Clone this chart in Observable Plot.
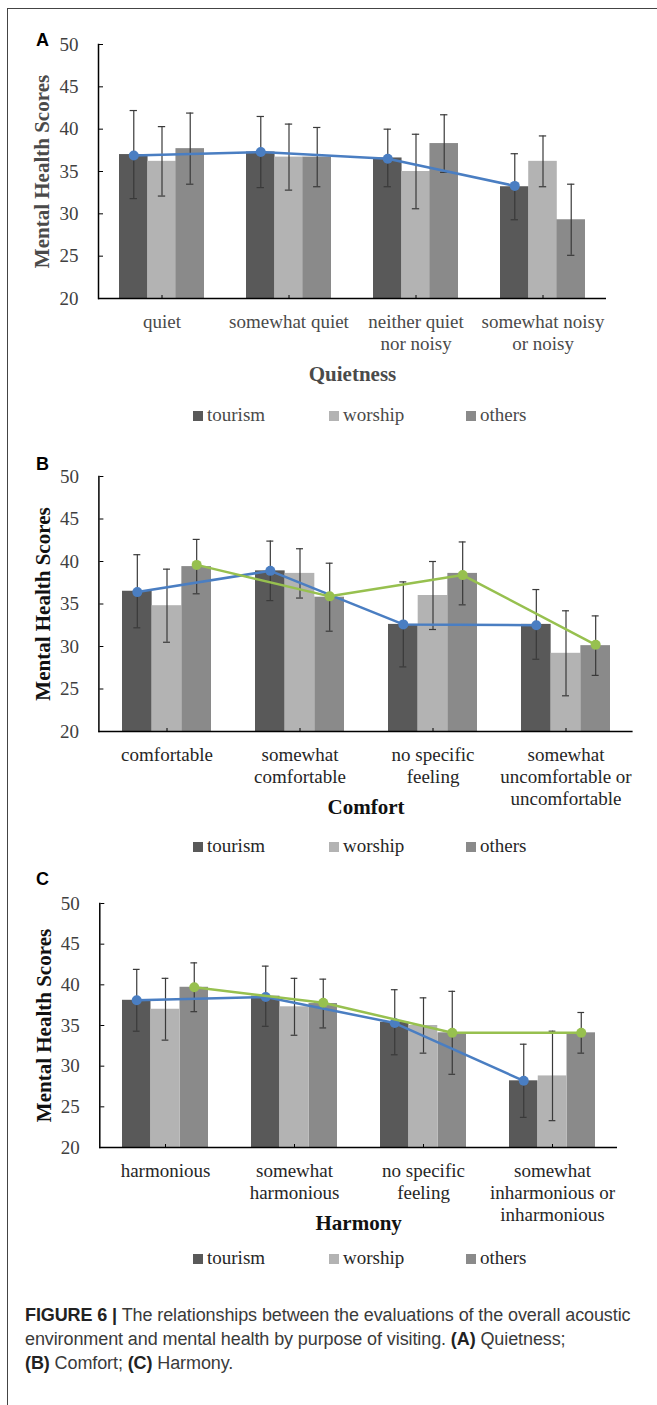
<!DOCTYPE html>
<html>
<head>
<meta charset="utf-8">
<script src="https://cdn.jsdelivr.net/npm/d3@7"></script>
<script src="https://cdn.jsdelivr.net/npm/@observablehq/plot@0.6"></script>
<style>
  body { margin: 0; background: #fff; }
  #page { position: relative; width: 657px; height: 1405px; overflow: hidden; background: #fff; }
  #border { position: absolute; left: 7px; top: 8px; width: 700px; height: 1500px; border-left: 1.5px solid #444; border-top: 1.5px solid #444; }
  .abs { position: absolute; }
  .letter { font-family: "Liberation Sans", Arial, sans-serif; font-weight: bold; font-size: 18px; color: #000; line-height: 1; }
  .legend { font-family: "Liberation Serif", "Times New Roman", serif; font-size: 19px; line-height: 1; }
  .sw { position: absolute; width: 10px; height: 10px; }
  #caption { position: absolute; left: 25px; top: 1303px; font-family: "Liberation Sans", Arial, sans-serif; font-size: 18px; line-height: 24px; color: #3a3a3a; white-space: nowrap; letter-spacing: -0.1px; }
  #caption b { color: #222; }
  svg text { font-family: "Liberation Serif", "Times New Roman", serif; }
</style>
</head>
<body>
<div id="page">
  <div id="border"></div>
  <div id="caption"><b>FIGURE 6 |</b> The relationships between the evaluations of the overall acoustic<br>environment and mental health by purpose of visiting. <b>(A)</b> Quietness;<br><b>(B)</b> Comfort; <b>(C)</b> Harmony.</div>
</div>
<script>
// ---------- data ----------
const series = ["tourism", "worship", "others"];
const seriesColors = ["#595959", "#b3b3b3", "#8a8a8a"];
const yTicks = [20, 25, 30, 35, 40, 45, 50];

// Panel A: Quietness
const quietCats = ["quiet", "somewhat quiet", "neither quiet\nnor noisy", "somewhat noisy\nor noisy"];
const quietTourism = [37.0, 37.3, 36.6, 33.2];
const quietWorship = [36.2, 36.7, 35.0, 36.2];
const quietOthers  = [37.7, 36.7, 38.3, 29.3];
const quietTourismSD = [5.2, 4.2, 3.4, 3.9];
const quietWorshipSD = [4.1, 3.9, 4.4, 3.0];
const quietOthersSD  = [4.2, 3.5, 3.4, 4.2];
const quietBlueLine  = [36.9, 37.3, 36.5, 33.3];

// Panel B: Comfort
const comfortCats = ["comfortable", "somewhat\ncomfortable", "no specific\nfeeling", "somewhat\nuncomfortable or\nuncomfortable"];
const comfortTourism = [36.5, 38.9, 32.6, 32.6];
const comfortWorship = [34.8, 38.6, 36.0, 29.2];
const comfortOthers  = [39.4, 35.8, 38.6, 30.1];
const comfortTourismSD = [4.3, 3.5, 5.0, 4.1];
const comfortWorshipSD = [4.3, 2.9, 4.0, 5.0];
const comfortOthersSD  = [3.2, 4.0, 3.7, 3.5];
const comfortBlueLine  = [36.4, 38.9, 32.6, 32.5];
const comfortGreenLine = [39.6, 35.9, 38.4, 30.2];

// Panel C: Harmony
const harmonyCats = ["harmonious", "somewhat\nharmonious", "no specific\nfeeling", "somewhat\ninharmonious or\ninharmonious"];
const harmonyTourism = [38.1, 38.6, 35.4, 28.2];
const harmonyWorship = [37.0, 37.3, 35.0, 28.8];
const harmonyOthers  = [39.7, 37.7, 34.1, 34.1];
const harmonyTourismSD = [3.8, 3.7, 4.0, 4.5];
const harmonyWorshipSD = [3.8, 3.5, 3.4, 5.5];
const harmonyOthersSD  = [3.0, 3.0, 5.1, 2.5];
const harmonyBlueLine  = [38.1, 38.5, 35.3, 28.2];
const harmonyGreenLine = [39.7, 37.8, 34.1, 34.1];

const blue = "#4a7ec2";
const green = "#97c04f";
const serif = "'Liberation Serif', 'Times New Roman', serif";

// ---------- drawing ----------
const page = document.getElementById("page");

function panel(cfg) {
  const {frameTop, frameLeft, frameRight, frameBottom, cats, means, sds, blueLine, greenLine,
         title, letter, letterTop, legendTop, labelColor, titleColor, yLabelColor} = cfg;
  const marginTop = 30, marginBottom = 130;
  const width = 657;
  const height = (frameBottom - frameTop) + marginTop + marginBottom;
  const innerW = frameRight - frameLeft;
  const groupW = innerW / 4 * (2 / 3);
  const sub = groupW / 3;
  const capW = 7;

  const rows = [];
  series.forEach((s, i) => cats.forEach((c, j) => rows.push({cat: c, series: s, i, mean: means[i][j], sd: sds[i][j]})));

  const marks = [];
  series.forEach((s, i) => {
    const d = rows.filter(r => r.i === i);
    marks.push(Plot.barY(d, {x: "cat", y1: 20, y2: "mean", fill: seriesColors[i],
      insetLeft: i * sub, insetRight: (2 - i) * sub}));
  });
  series.forEach((s, i) => {
    const d = rows.filter(r => r.i === i);
    const dx = (i - 1) * sub;
    const ins = (groupW - capW) / 2;
    marks.push(Plot.ruleX(d, {x: "cat", y1: r => r.mean - r.sd, y2: r => r.mean + r.sd, dx, stroke: "#3a3a3a", strokeWidth: 1.2}));
    marks.push(Plot.tickY(d, {x: "cat", y: r => r.mean + r.sd, dx, insetLeft: ins, insetRight: ins, stroke: "#3a3a3a", strokeWidth: 1.2}));
    marks.push(Plot.tickY(d, {x: "cat", y: r => r.mean - r.sd, dx, insetLeft: ins, insetRight: ins, stroke: "#3a3a3a", strokeWidth: 1.2}));
  });
  const lineSets = [];
  if (blueLine) lineSets.push({vals: blueLine, color: blue, dx: -sub});
  if (greenLine) lineSets.push({vals: greenLine, color: green, dx: sub});
  lineSets.forEach(ls => {
    const d = cats.map((c, j) => ({cat: c, v: ls.vals[j]}));
    marks.push(Plot.line(d, {x: "cat", y: "v", dx: ls.dx, stroke: ls.color, strokeWidth: 2.5}));
    marks.push(Plot.dot(d, {x: "cat", y: "v", dx: ls.dx, r: 5, fill: ls.color, stroke: "none"}));
  });

  // axes
  marks.push(Plot.ruleY([20], {stroke: "#000", strokeWidth: 1.5}));
  marks.push(Plot.frame({anchor: "left", stroke: "#000", strokeWidth: 1.5}));
  marks.push(Plot.axisY({ticks: yTicks, tickSize: 0, tickPadding: 20, label: null, fill: "#404040", fontSize: 19, fontFamily: serif}));
  marks.push(Plot.axisY({ticks: yTicks, anchor: "right", frameAnchor: "left", tickSize: 4, fill: "none", label: null, stroke: "#000"}));
  marks.push(Plot.axisX({tickSize: 0, tickPadding: 14, label: null, fill: labelColor, fontSize: 19, lineHeight: 1.16, fontFamily: serif}));
  marks.push(Plot.axisX({anchor: "top", frameAnchor: "bottom", tickSize: 4, fill: "none", label: null, stroke: "#000"}));
  marks.push(Plot.text([title], {frameAnchor: "bottom", dy: 82, fontSize: 21, fontWeight: "bold", fill: titleColor, fontFamily: serif}));
  marks.push(Plot.text(["Mental Health Scores"], {frameAnchor: "left", textAnchor: "middle", dx: -56, rotate: -90, fontSize: 21, fontWeight: "bold", fill: yLabelColor, fontFamily: serif}));

  const svg = Plot.plot({
    width, height,
    marginTop, marginBottom,
    marginLeft: frameLeft, marginRight: width - frameRight,
    style: {fontFamily: serif, fontSize: "19px", background: "transparent", overflow: "visible"},
    x: {type: "band", domain: cats, paddingInner: 1/3, paddingOuter: 1/6},
    y: {domain: [20, 50]},
    marks
  });
  const wrap = document.createElement("div");
  wrap.className = "abs";
  wrap.style.left = "0px";
  wrap.style.top = (frameTop - marginTop) + "px";
  wrap.appendChild(svg);
  page.appendChild(wrap);

  // panel letter
  const L = document.createElement("div");
  L.className = "abs letter";
  L.style.left = "36px";
  L.style.top = letterTop + "px";
  L.textContent = letter;
  page.appendChild(L);

  // legend
  const swLeft = [193, 329, 466];
  series.forEach((s, i) => {
    const sw = document.createElement("div");
    sw.className = "sw";
    sw.style.left = swLeft[i] + "px";
    sw.style.top = (legendTop - 5) + "px";
    sw.style.background = seriesColors[i];
    page.appendChild(sw);
    const t = document.createElement("div");
    t.className = "abs legend";
    t.style.left = (swLeft[i] + 14) + "px";
    t.style.top = (legendTop - 11) + "px";
    t.style.color = labelColor;
    t.textContent = s;
    page.appendChild(t);
  });
}

panel({frameTop: 44.3, frameLeft: 98, frameRight: 606, frameBottom: 298.3, cats: quietCats,
  means: [quietTourism, quietWorship, quietOthers], sds: [quietTourismSD, quietWorshipSD, quietOthersSD],
  blueLine: quietBlueLine, greenLine: null, title: "Quietness", letter: "A", letterTop: 31, legendTop: 416,
  labelColor: "#4a4a4a", titleColor: "#4a4a4a", yLabelColor: "#4a4a4a"});

panel({frameTop: 475.7, frameLeft: 98.4, frameRight: 632.6, frameBottom: 730.7, cats: comfortCats,
  means: [comfortTourism, comfortWorship, comfortOthers], sds: [comfortTourismSD, comfortWorshipSD, comfortOthersSD],
  blueLine: comfortBlueLine, greenLine: comfortGreenLine, title: "Comfort", letter: "B", letterTop: 455, legendTop: 847,
  labelColor: "#262626", titleColor: "#111", yLabelColor: "#111"});

panel({frameTop: 903.3, frameLeft: 99.3, frameRight: 617, frameBottom: 1147.3, cats: harmonyCats,
  means: [harmonyTourism, harmonyWorship, harmonyOthers], sds: [harmonyTourismSD, harmonyWorshipSD, harmonyOthersSD],
  blueLine: harmonyBlueLine, greenLine: harmonyGreenLine, title: "Harmony", letter: "C", letterTop: 870, legendTop: 1259,
  labelColor: "#262626", titleColor: "#111", yLabelColor: "#111"});
</script>
</body>
</html>
